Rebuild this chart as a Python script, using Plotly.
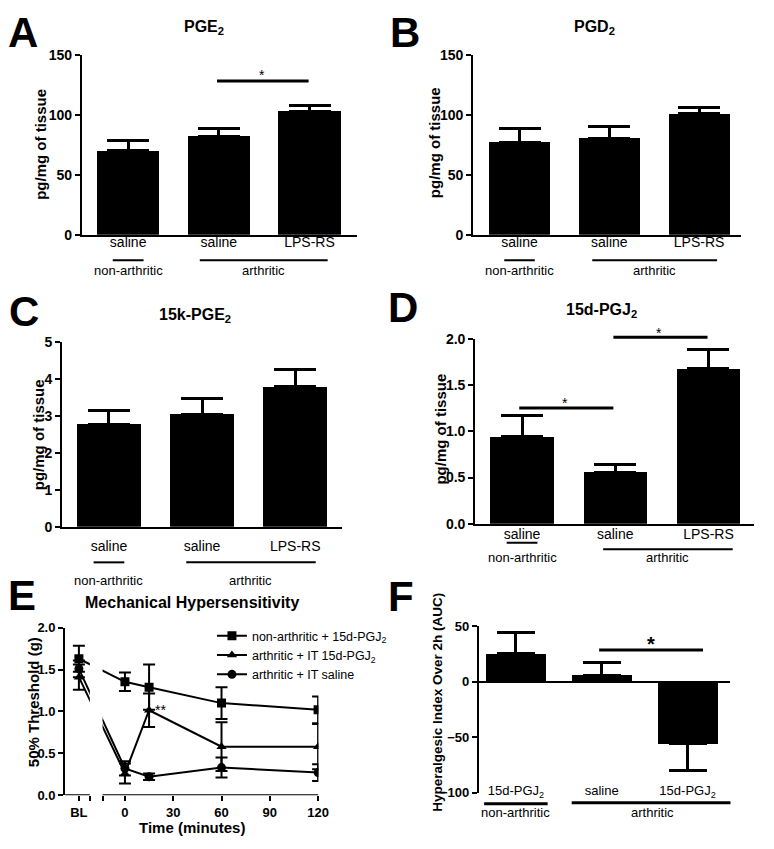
import plotly.graph_objects as go

W, H = 774, 849
FONT = "Liberation Sans, Arial, sans-serif"


def px(x):
    return x / W


def py(y):
    return 1 - y / H


# ---------------- data ----------------
cat_labels_AD = ["saline", "saline", "LPS-RS"]
group_labels = ["non-arthritic", "arthritic"]

pge2_mean = [70, 82, 103]
pge2_sem = [8.4, 7.0, 5.0]
pgd2_mean = [77, 80.5, 101]
pgd2_sem = [12.0, 10.2, 5.0]
k15pge2_mean = [2.78, 3.05, 3.80]
k15pge2_sem = [0.37, 0.42, 0.46]
d15pgj2_mean = [0.94, 0.56, 1.68]
d15pgj2_sem = [0.235, 0.077, 0.21]

time_minutes = [0, 15, 60, 120]
time_ticks = [0, 30, 60, 90, 120]
nonarth_pgj2_mean = [1.63, 1.355, 1.29, 1.10, 1.02]
nonarth_pgj2_sem = [0.155, 0.11, 0.27, 0.19, 0.16]
arth_pgj2_mean = [1.41, 0.26, 1.015, 0.58, 0.58]
arth_pgj2_sem = [0.15, 0.12, 0.20, 0.29, 0.27]
arth_saline_mean = [1.51, 0.32, 0.22, 0.33, 0.27]
arth_saline_sem = [0.10, 0.085, 0.04, 0.12, 0.10]
series_names = ["non-arthritic + 15d-PGJ<sub>2</sub>",
                "arthritic + IT 15d-PGJ<sub>2</sub>",
                "arthritic + IT saline"]

auc_labels = ["15d-PGJ<sub>2</sub>", "saline", "15d-PGJ<sub>2</sub>"]
auc_mean = [25, 6, -56]
auc_sem = [19, 11, 23.5]

# ---------------- layout helpers ----------------
BL_POS = -28.6          # where the baseline column sits on the time axis
BREAK = (-21.8, -13.9)  # broken-axis gap

fig = go.Figure()
annotations = []
shapes = []

axis_common = dict(showline=True, linecolor="black", linewidth=2, ticks="outside",
                   ticklen=5, tickwidth=2, tickcolor="black", showgrid=False,
                   zeroline=False, fixedrange=True)
ytick_font = dict(family=FONT, size=14, color="black", weight="bold")
etick_font = dict(family=FONT, size=13, color="black", weight="bold")


def text(x, y, s, size=13, bold=False, xref="paper", yref="paper", angle=0, yshift=0,
         xanchor="center"):
    annotations.append(dict(x=x, y=y, xref=xref, yref=yref, text=s, showarrow=False,
                            textangle=angle, xanchor=xanchor, yanchor="middle", yshift=yshift,
                            font=dict(family=FONT, size=size, color="black",
                                      weight="bold" if bold else "normal")))


def hline(x0, x1, y, xref, yref="paper", width=2):
    shapes.append(dict(type="line", x0=x0, x1=x1, y0=y, y1=y, xref=xref, yref=yref,
                       line=dict(color="black", width=width)))


def bar_panel(n, means, sems, labels, xdom, ydom, yrange, dtick, xrange, width, cap,
              tickfmt=None, standoff=0):
    xa, ya = f"x{n}", f"y{n}"
    plus = [s if m >= 0 else 0 for m, s in zip(means, sems)]
    minus_ = [0 if m >= 0 else s for m, s in zip(means, sems)]
    fig.add_trace(go.Bar(x=[0, 1, 2], y=means, width=width, xaxis=xa, yaxis=ya,
                         marker=dict(color="black", line=dict(width=0)), showlegend=False,
                         error_y=dict(type="data", symmetric=False, array=plus,
                                      arrayminus=minus_, color="black", thickness=3,
                                      width=cap)))
    fig.update_layout(**{
        f"xaxis{n}": dict(axis_common, domain=[px(xdom[0]), px(xdom[1])], range=xrange,
                          anchor=ya, tickvals=[0, 1, 2], ticktext=labels, ticks="",
                          ticklabelstandoff=standoff,
                          tickfont=dict(family=FONT, size=14, color="black")),
        f"yaxis{n}": dict(axis_common, domain=[py(ydom[1]), py(ydom[0])], range=yrange,
                          dtick=dtick, anchor=xa, tickfont=ytick_font,
                          tickformat=tickfmt),
    })


# Panel A
bar_panel(1, pge2_mean, pge2_sem, cat_labels_AD, (83, 362), (48, 231), [0, 150], 50,
          [-0.511, 2.522], 0.69, 21, standoff=-6)
# Panel B
bar_panel(2, pgd2_mean, pgd2_sem, cat_labels_AD, (480, 752), (48, 231), [0, 150], 50,
          [-0.516, 2.47], 0.68, 21, standoff=-6)
# Panel C
bar_panel(3, k15pge2_mean, k15pge2_sem, cat_labels_AD, (63, 347), (340.7, 528.7), [0, 5], 1,
          [-0.503, 2.503], 0.69, 21, standoff=5)
# Panel D
bar_panel(4, d15pgj2_mean, d15pgj2_sem, cat_labels_AD, (482, 765), (337.3, 525.7), [0, 2], 0.5,
          [-0.503, 2.49], 0.68, 21, tickfmt=".1f", standoff=-4)
# Panel F
bar_panel(6, auc_mean, auc_sem, auc_labels, (485.7, 741), (630, 800), [-100, 50], 50,
          [-0.432, 2.5], 0.7, 19)
fig.update_layout(
    xaxis6=dict(showline=False, anchor="free", position=py(788), ticklabelstandoff=0,
                tickfont=dict(family=FONT, size=13, color="black")),
    yaxis6=dict(zeroline=True, zerolinecolor="black", zerolinewidth=2, tickfont=etick_font),
)

# Panel E: time course
x_vals = [BL_POS] + time_minutes
symbols = ["square", "triangle-up", "circle"]
for name, m, s, sym in zip(series_names,
                           [nonarth_pgj2_mean, arth_pgj2_mean, arth_saline_mean],
                           [nonarth_pgj2_sem, arth_pgj2_sem, arth_saline_sem], symbols):
    fig.add_trace(go.Scatter(x=x_vals, y=m, name=name, mode="lines+markers", xaxis="x5",
                             yaxis="y5", line=dict(color="black", width=2),
                             marker=dict(symbol=sym, size=9, color="black"),
                             error_y=dict(type="data", array=s, color="black", thickness=2,
                                          width=6)))
fig.update_layout(
    xaxis5=dict(axis_common, showline=False, domain=[px(66), px(323)], range=[-37.2, 120.2],
                anchor="y5", tickvals=[BL_POS, BREAK[0], BREAK[1]] + time_ticks,
                ticktext=["BL", "", ""] + [str(t) for t in time_ticks], tickfont=etick_font),
    yaxis5=dict(axis_common, domain=[py(802.3), py(631.7)], range=[0, 2], dtick=0.5,
                tickformat=".1f", anchor="x5", tickfont=etick_font),
)
# mask for broken axis, then the two axis segments
shapes.append(dict(type="rect", xref="x5", yref="y5", x0=BREAK[0], x1=BREAK[1], y0=0.003,
                   y1=2, fillcolor="white", line=dict(width=0), layer="above"))
hline(-37.2, BREAK[0], 0, "x5", "y5")
hline(BREAK[1], 120.2, 0, "x5", "y5")

# ---------- group labels under the bar panels ----------
# (axis, short-line y, long-line y, label y, short half-width, long extent)
groups = [
    ("x1", 257, 257, 268, 0.17, (0.79, 2.2)),
    ("x2", 257, 257, 268, 0.17, (0.81, 2.2)),
    ("x3", 565, 565, 583, 0.165, (0.83, 2.22)),
    ("x4", 545, 551.7, 560, 0.165, (0.87, 2.26)),
    ("x6", 811, 810, 820, 0.37, (0.65, 2.53)),
]
for xa, ys, yl, yt, hw, (l0, l1) in groups:
    hline(-hw, hw, py(ys), xa, width=2 if xa != "x6" else 3)
    hline(l0, l1, py(yl), xa, width=2 if xa != "x6" else 3)
    text(0, py(yt), group_labels[0], size=13, xref=xa)
    text((l0 + l1) / 2, py(yt), group_labels[1], size=13, xref=xa)

# ---------- significance bars ----------
hline(0.98, 1.99, py(74.3), "x1", width=3)
text(1.48, py(65), "*", size=14, xref="x1", yshift=-3)
hline(-0.03, 0.98, py(407.7), "x4", width=3)
text(0.46, py(400), "*", size=14, xref="x4", yshift=-3)
hline(0.98, 1.99, py(335.7), "x4", width=3)
text(1.47, py(328.3), "*", size=14, xref="x4", yshift=-3)
hline(0.97, 2.18, py(654.3), "x6", width=3)
text(1.58, py(644), "*", size=20, bold=True, xref="x6", yshift=-4)
text(22.2, 1.05, "**", size=14, xref="x5", yref="y5", yshift=-3)

# ---------- titles, letters, axis titles ----------
text(px(207), py(20), "PGE<sub>2</sub>", size=16, bold=True)
text(px(603), py(20), "PGD<sub>2</sub>", size=16, bold=True)
text(px(198), py(313), "15k-PGE<sub>2</sub>", size=16, bold=True)
text(px(610), py(308), "15d-PGJ<sub>2</sub>", size=16, bold=True)
text(px(195), py(606), "Mechanical Hypersensitivity", size=16, bold=True)

for letter, x, y in [("A", 23, 25), ("B", 411, 25), ("C", 24, 309), ("D", 409, 305),
                     ("E", 22, 599), ("F", 407, 600)]:
    text(px(x), py(y), letter, size=42, bold=True)

for x, y, s in [(41.5, 138.5, "pg/mg of tissue"), (441.5, 137.5, "pg/mg of tissue"),
                (38.5, 434.5, "pg/mg of tissue"), (446.5, 429.5, "pg/mg of tissue"),
                (34, 708, "50% Threshold (g)"), (443.5, 708, "Hyperalgesic Index Over 2h (AUC)")]:
    text(px(x), py(y), s, size=15 if "AUC" not in s else 13.5, bold=True, angle=-90)

text(px(195), py(835), "Time (minutes)", size=15, bold=True)

fig.update_layout(
    width=W, height=H, margin=dict(l=0, r=0, t=0, b=0),
    paper_bgcolor="white", plot_bgcolor="white",
    font=dict(family=FONT, color="black"),
    annotations=annotations, shapes=shapes, bargap=0,
    showlegend=True,
    legend=dict(x=px(215), y=py(625), xanchor="left", yanchor="top",
                bgcolor="rgba(0,0,0,0)", font=dict(family=FONT, size=12.5, color="black"),
                tracegroupgap=0, itemwidth=30),
)

fig.write_html("out.html", config={"displayModeBar": False, "staticPlot": True},
               post_script="document.body.style.margin='0';document.body.style.padding='0';")
